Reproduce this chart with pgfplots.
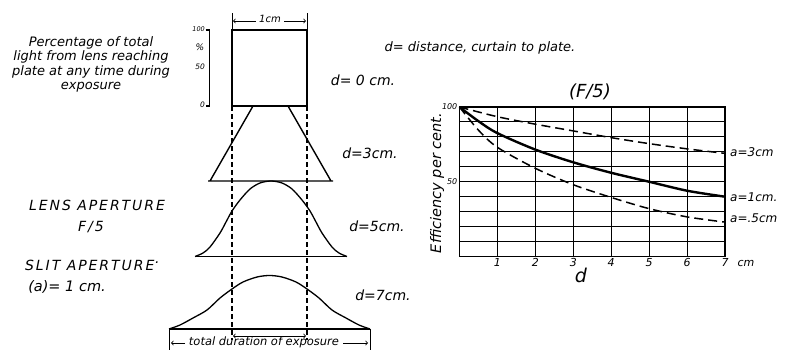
\documentclass[border=0pt]{standalone}
\usepackage{pgfplots}
\pgfplotsset{compat=1.18}
\usepackage{fontspec}
\setmainfont{DejaVu Sans}
\newcommand\hw[2]{\fontsize{#1}{#2}\selectfont\itshape}
\newcommand\hwc[2]{\fontsize{#1}{#2}\selectfont\itshape\addfontfeature{LetterSpace=14}}
\begin{document}
\begin{tikzpicture}
\useasboundingbox (0,0) rectangle (787pt,359pt);
\begin{axis}[name=canvas, at={(0,0)}, anchor=south west, scale only axis,
  width=787pt, height=359pt, xmin=0, xmax=787, ymin=0, ymax=359,
  y dir=reverse, hide axis, clip=false]
% scale bar
\addplot[black, line width=1.4pt] coordinates {(205.5,30)(209.5,30)(209.5,106)(205.5,106)};
\node[font=\hw{6.5}{7}, anchor=east, inner sep=0pt] at (205,29) {100};
\node[font=\hw{9}{9}, inner sep=0pt] at (200,47) {\%};
\node[font=\hw{7.5}{8}, anchor=east, inner sep=0pt] at (205,67) {50};
\node[font=\hw{7.5}{8}, anchor=east, inner sep=0pt] at (205,105) {0};
% square d=0
\addplot[black, line width=1.4pt] coordinates {(232,106)(232,30)(307,30)(307,106)(232,106)};
\addplot[black, line width=0.9pt] coordinates {(232,13)(232,30)};
\addplot[black, line width=0.9pt] coordinates {(307,13)(307,30)};
\addplot[black, line width=0.8pt, <-] coordinates {(233,21)(256,21)};
\addplot[black, line width=0.8pt, ->] coordinates {(284,21)(306,21)};
\node[font=\hw{10}{10}] at (270,19) {1cm};
% dashed verticals
\addplot[black, line width=1.1pt, dash pattern=on 5pt off 3pt] coordinates {(232,106)(232,340)};
\addplot[black, line width=1.1pt, dash pattern=on 5pt off 3pt] coordinates {(307,106)(307,340)};
% d=3 trapezoid
\addplot[black, line width=1.4pt] coordinates {(208,181)(210,181)(253,106)(288,106)(331,181)(333,181)(208,181)};
% d=5 bell
\addplot[black, line width=1.3pt, smooth] coordinates {(195,256.5)(203,253)(210,247)(220,233)(226,222)(232,211)(240,200)(250,189)(260,183)(271,181)(282,183)(292,189)(302,200)(310,211)(316,222)(322,233)(332,247)(339,253)(347,256.5)};
\addplot[black, line width=1.4pt] coordinates {(195,256.5)(347,256.5)};
% d=7 bell
\addplot[black, line width=1.3pt, smooth] coordinates {(169,329)(180,325)(193,318)(207,310)(220,298)(232,289)(243,282)(257,277)(269.5,275.5)(282,277)(296,282)(307,289)(319,298)(332,310)(346,318)(359,325)(370,329)};
\addplot[black, line width=1.4pt] coordinates {(169,329)(370,329)};
\addplot[black, line width=1pt] coordinates {(169,329)(169,350)};
\addplot[black, line width=1pt] coordinates {(370,329)(370,350)};
\addplot[black, line width=0.8pt, <->] coordinates {(233,336)(306,336)};
\addplot[black, line width=0.8pt, ->] coordinates {(185,343)(171,343)};
\addplot[black, line width=0.8pt, ->] coordinates {(343,343)(368,343)};
\node[font=\hw{11.5}{12}] at (264,342) {total duration of exposure};
% texts left
\node[font=\hw{13}{14.3}, align=center] at (91,64.5) {Percentage of total\\light from lens reaching\\plate at any time during\\exposure};
\node[font=\hwc{14}{14}] at (97,205) {LENS APERTURE};
\node[font=\hwc{14}{14}] at (91,227) {F/5};
\node[font=\hwc{14}{14}] at (92,265) {SLIT APERTURE\raisebox{0.4ex}{·}};
\node[font=\hw{14.5}{15}] at (67,287) {(a)= 1 cm.};
\node[font=\hw{13}{13}] at (480,48) {d= distance, curtain to plate.};
\node[font=\hw{14}{14}] at (363,80) {d= 0 cm.};
\node[font=\hw{14}{14}] at (370,153) {d=3cm.};
\node[font=\hw{14}{14}] at (377,226) {d=5cm.};
\node[font=\hw{14}{14}] at (383,295) {d=7cm.};
% right chart annotations
\node[font=\hw{18}{18}] at (590,92) {(F/5)};
\node[font=\hw{14.5}{15}, rotate=90] at (437,183) {Efficiency per cent.};
\node[font=\hw{11}{11}] at (746,263) {cm};
\node[font=\hw{19}{19}] at (581,275) {d};
\node[font=\hw{12}{12}, anchor=west, inner sep=1pt] at (729,152) {a=3cm};
\node[font=\hw{12}{12}, anchor=west, inner sep=1pt] at (729,197) {a=1cm.};
\node[font=\hw{12}{12}, anchor=west, inner sep=1pt] at (729,218) {a=.5cm};
\end{axis}
\begin{axis}[at={(459.5pt,102.5pt)}, anchor=south west, scale only axis,
  width=265.5pt, height=149.5pt, xmin=0, xmax=7, ymin=0, ymax=100,
  axis line style={line width=1.6pt}, grid=major,
  major grid style={black, line width=1.1pt},
  xtick={0,1,...,7}, xticklabels={,1,2,3,4,5,6,7},
  ytick={0,10,...,100}, yticklabels={,,,,,50,,,,,100},
  major tick length=0pt,
  /pgf/number format/assume math mode=true,
  xticklabel style={font=\hw{11}{11}, inner sep=1.5pt},
  yticklabel style={font=\hw{8}{8}, inner sep=2pt},
  clip=false]
\addplot[black, line width=1.5pt, dash pattern=on 9pt off 5pt, smooth] coordinates {(0,100)(1,93.5)(2,88.5)(3,84)(4,79.5)(5,75.5)(6,72)(7,69)};
\addplot[black, line width=2.4pt, smooth] coordinates {(0,100)(0.5,90.5)(1,82.5)(2,71.5)(3,63)(4,56)(5,50)(6,44)(7,40)};
\addplot[black, line width=1.5pt, dash pattern=on 9pt off 5pt, smooth] coordinates {(0,100)(0.5,84.5)(1,73)(2,59)(3,48)(4,39.5)(5,32)(6,26.5)(7,23)};
\end{axis}
\end{tikzpicture}
\end{document}
